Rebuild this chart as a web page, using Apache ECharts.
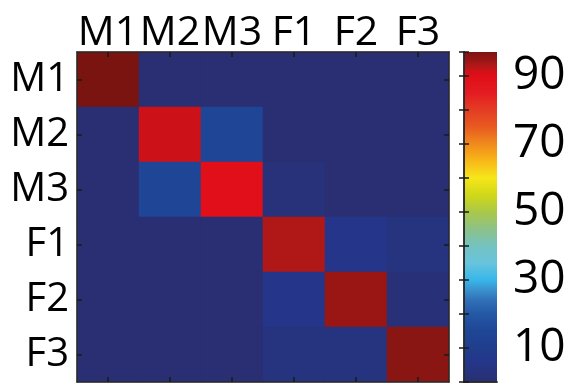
<!DOCTYPE html>
<html>
<head>
<meta charset="utf-8">
<script src="https://cdn.jsdelivr.net/npm/echarts@6/dist/echarts.min.js"></script>
<style>html,body{margin:0;padding:0;background:#fff;}#c{width:577px;height:387px;}</style>
</head>
<body>
<div id="c"></div>
<script>
var categories = ['M1', 'M2', 'M3', 'F1', 'F2', 'F3'];
var rowM1 = [97, 0, 0, 0, 0, 0];
var rowM2 = [0, 91.5, 15, 0, 0, 0];
var rowM3 = [0, 15, 89.5, 2, 0, 0];
var rowF1 = [0, 0, 0, 93, 6, 3];
var rowF2 = [0, 0, 0, 6, 94.5, 1.5];
var rowF3 = [0, 0, 0, 3, 3, 96];
var colorbarMin = 0;
var colorbarMax = 97;
var colorbarTicks = [10, 30, 50, 70, 90];
var colormapStops = [
  [0, '#292f72'], [3, '#26337e'], [6, '#25368a'], [10, '#1f3e8c'], [15, '#1f4696'],
  [20, '#2458a4'], [24, '#3070b8'], [27, '#3a90cc'], [30, '#38b6ea'], [35, '#68c4dc'],
  [40, '#74c2c0'], [45, '#8cc288'], [50, '#aac848'], [55, '#d0d818'], [60, '#f6e61a'],
  [65, '#f8b818'], [70, '#f08a1c'], [75, '#e85a20'], [80, '#e43c24'], [85, '#e41c22'],
  [90, '#e00e18'], [91.5, '#cc1218'], [93, '#b01818'], [94.5, '#9a1614'], [96, '#8a1614'],
  [97, '#7a1410']
];

var rows = [rowM1, rowM2, rowM3, rowF1, rowF2, rowF3];
var heatData = [];
rows.forEach(function (r, yi) {
  r.forEach(function (v, xi) { heatData.push([xi, yi, v]); });
});

function hex2rgb(h) { return [parseInt(h.substr(1,2),16), parseInt(h.substr(3,2),16), parseInt(h.substr(5,2),16)]; }
function colorAt(v) {
  for (var i = 0; i < colormapStops.length - 1; i++) {
    var a = colormapStops[i], b = colormapStops[i + 1];
    if (v >= a[0] && v <= b[0]) {
      var t = (v - a[0]) / (b[0] - a[0]);
      var ca = hex2rgb(a[1]), cb = hex2rgb(b[1]);
      return 'rgb(' + ca.map(function (c, k) { return Math.round(c + (cb[k] - c) * t); }).join(',') + ')';
    }
  }
  return colormapStops[colormapStops.length - 1][1];
}
var palette = [];
var N = 388;
for (var i = 0; i <= N; i++) palette.push(colorAt(colorbarMin + (colorbarMax - colorbarMin) * i / N));
var gradientStops = colormapStops.map(function (s) {
  return { offset: (s[0] - colorbarMin) / (colorbarMax - colorbarMin), color: s[1] };
});

var FONT = 'Open Sans';
var lineC = '#2a2a2a';
var tickC = '#1a1a1a';
var TICK = { show: true, inside: true, length: 5, lineStyle: { color: tickC, width: 1.5 } };
var TICKC = { show: true, inside: true, alignWithLabel: true, length: 5, lineStyle: { color: tickC, width: 1.5 } };

var chart = echarts.init(document.getElementById('c'), null, { renderer: 'canvas' });
chart.setOption({
  backgroundColor: '#ffffff',
  animation: false,
  grid: [
    { left: 77, top: 52, width: 372, height: 330, containLabel: false },
    { left: 464, top: 52, width: 33, height: 330, containLabel: false, show: true,
      borderWidth: 0,
      backgroundColor: { type: 'linear', x: 0, y: 1, x2: 0, y2: 0, colorStops: gradientStops } }
  ],
  xAxis: [
    { type: 'category', gridIndex: 0, data: categories, position: 'top', z: 10,
      axisLine: { show: true, lineStyle: { color: lineC, width: 1.5 } },
      axisTick: TICKC,
      axisLabel: { show: true, interval: 0, color: '#000', fontSize: 41, fontFamily: FONT, margin: -2 },
      splitLine: { show: false } },
    { type: 'category', gridIndex: 0, data: categories, position: 'bottom', z: 10,
      axisLine: { show: true, lineStyle: { color: lineC, width: 1.5 } },
      axisTick: TICKC,
      axisLabel: { show: false }, splitLine: { show: false } },
    { type: 'value', gridIndex: 1, min: 0, max: 1, position: 'bottom', z: 10,
      axisLine: { show: true, lineStyle: { color: lineC, width: 1.5 } },
      axisTick: { show: false }, axisLabel: { show: false }, splitLine: { show: false } },
    { type: 'value', gridIndex: 1, min: 0, max: 1, position: 'top', z: 10,
      axisLine: { show: true, lineStyle: { color: lineC, width: 1.5 } },
      axisTick: { show: false }, axisLabel: { show: false }, splitLine: { show: false } }
  ],
  yAxis: [
    { type: 'category', gridIndex: 0, data: categories, inverse: true, position: 'left', z: 10,
      axisLine: { show: true, lineStyle: { color: lineC, width: 1.5 } },
      axisTick: TICKC,
      axisLabel: { show: true, interval: 0, color: '#000', fontSize: 40, fontFamily: FONT, margin: 8 },
      splitLine: { show: false } },
    { type: 'category', gridIndex: 0, data: categories, inverse: true, position: 'right', z: 10,
      axisLine: { show: true, lineStyle: { color: lineC, width: 1.5 } },
      axisTick: TICKC,
      axisLabel: { show: false }, splitLine: { show: false } },
    { type: 'value', gridIndex: 1, min: colorbarMin, max: colorbarMax, interval: 10, position: 'right', z: 10,
      axisLine: { show: true, lineStyle: { color: lineC, width: 1.5 } },
      axisTick: TICK,
      axisLabel: { show: true, color: '#000', fontSize: 46, fontFamily: FONT, margin: 16,
        formatter: function (v) { return colorbarTicks.indexOf(v) >= 0 ? String(v) : ''; } },
      splitLine: { show: false } },
    { type: 'value', gridIndex: 1, min: colorbarMin, max: colorbarMax, interval: 10, position: 'left', z: 10,
      axisLine: { show: true, lineStyle: { color: lineC, width: 1.5 } },
      axisTick: TICK,
      axisLabel: { show: false }, splitLine: { show: false } }
  ],
  visualMap: {
    type: 'continuous',
    show: false,
    min: colorbarMin,
    max: colorbarMax,
    seriesIndex: 0,
    inRange: { color: palette }
  },
  series: [{
    type: 'heatmap',
    xAxisIndex: 0,
    yAxisIndex: 0,
    data: heatData,
    itemStyle: { borderWidth: 0 },
    emphasis: { disabled: true },
    z: 2
  }]
});
</script>
</body>
</html>
